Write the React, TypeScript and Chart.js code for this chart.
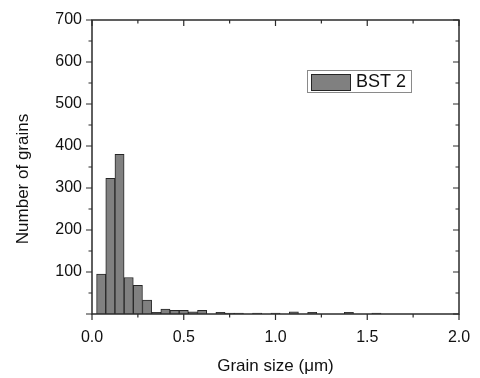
import React, { useEffect, useRef } from "react";
import { Chart, registerables } from "chart.js";

Chart.register(...registerables);

const binCenters = [0.05, 0.1, 0.15, 0.2, 0.25, 0.3, 0.35, 0.4, 0.45, 0.5, 0.55, 0.6, 0.65, 0.7, 0.75, 0.8, 0.85, 0.9, 0.95, 1.0, 1.05, 1.1, 1.15, 1.2, 1.25, 1.3, 1.35, 1.4, 1.45, 1.5, 1.55];
const counts = [95, 323, 380, 87, 68, 33, 4, 12, 9, 9, 5, 9, 0, 4, 2, 2, 0, 2, 0, 2, 0, 5, 0, 4, 0, 0, 0, 4, 0, 0, 2];
const xTickLabels = ["0.0", "0.5", "1.0", "1.5", "2.0"];
const yTickLabels = ["", "100", "200", "300", "400", "500", "600", "700"];
const seriesName = "BST 2";
const xTitle = "Grain size (\u03bcm)";
const yTitle = "Number of grains";

const FONT = "'Liberation Sans', Arial, sans-serif";
const BAR_FILL = "#808080";
const BAR_EDGE = "#262626";
const AXIS = "#2b2b2b";
const TEXT = "#111111";

const decorations = {
  id: "decorations",
  afterDraw(chart: any) {
    const ctx = chart.ctx as CanvasRenderingContext2D;
    const a = chart.chartArea;
    const xs = chart.scales.x;
    const ys = chart.scales.y;
    ctx.save();
    ctx.strokeStyle = AXIS;
    ctx.lineWidth = 1.5;
    ctx.strokeRect(a.left, a.top, a.right - a.left, a.bottom - a.top);
    ctx.lineWidth = 1.2;
    for (let i = 0; i <= 8; i++) {
      const v = i * 0.25;
      const px = xs.getPixelForValue(v);
      const major = i % 2 === 0;
      const len = major ? 6 : 3.5;
      ctx.beginPath();
      ctx.moveTo(px, a.bottom);
      ctx.lineTo(px, a.bottom + len);
      ctx.moveTo(px, a.top);
      ctx.lineTo(px, a.top + len);
      ctx.stroke();
    }
    for (let i = 0; i <= 14; i++) {
      const v = i * 50;
      const py = ys.getPixelForValue(v);
      const major = i % 2 === 0;
      const len = major ? 6 : 3.5;
      ctx.beginPath();
      ctx.moveTo(a.left, py);
      ctx.lineTo(a.left - len, py);
      ctx.moveTo(a.right, py);
      ctx.lineTo(a.right - len, py);
      ctx.stroke();
    }
    ctx.fillStyle = TEXT;
    ctx.font = `17px ${FONT}`;
    ctx.textAlign = "center";
    ctx.textBaseline = "middle";
    ctx.fillText(xTitle, (a.left + a.right) / 2, 366);
    ctx.save();
    ctx.translate(23, 179);
    ctx.rotate(-Math.PI / 2);
    ctx.fillText(yTitle, 0, 0);
    ctx.restore();
    ctx.strokeStyle = "#8a8a8a";
    ctx.lineWidth = 1;
    ctx.strokeRect(307.5, 70.5, 104, 22);
    ctx.fillStyle = BAR_FILL;
    ctx.fillRect(311, 74, 40, 17);
    ctx.strokeStyle = BAR_EDGE;
    ctx.strokeRect(311.5, 74.5, 39, 16);
    ctx.fillStyle = TEXT;
    ctx.font = `18px ${FONT}`;
    ctx.textAlign = "left";
    ctx.textBaseline = "middle";
    ctx.fillText(seriesName, 356, 82.5);
    ctx.restore();
  },
};

export default function App() {
  const ref = useRef<HTMLCanvasElement | null>(null);
  useEffect(() => {
    if (!ref.current) return;
    const chart = new Chart(ref.current, {
      type: "bar",
      data: {
        datasets: [
          {
            label: seriesName,
            data: binCenters.map((x, i) => ({ x, y: counts[i] })),
            backgroundColor: BAR_FILL,
            borderColor: BAR_EDGE,
            borderWidth: 1,
            barPercentage: 1,
            categoryPercentage: 1,
          },
        ],
      },
      options: {
        animation: false,
        responsive: false,
        maintainAspectRatio: false,
        layout: { padding: { left: 0, top: 20, right: 21, bottom: 0 } },
        plugins: { legend: { display: false }, tooltip: { enabled: false } },
        scales: {
          x: {
            type: "linear",
            min: 0,
            max: 2,
            offset: false,
            grid: { display: false, drawTicks: true, tickLength: 10 },
            border: { display: false },
            ticks: {
              stepSize: 0.5,
              padding: 4,
              color: TEXT,
              font: { size: 16, family: FONT },
              maxRotation: 0,
              autoSkip: false,
              callback: (v: any) => xTickLabels[Math.round(Number(v) / 0.5)] ?? "",
            },
            afterFit: (s: any) => {
              s.height = 64;
            },
          },
          y: {
            type: "linear",
            min: 0,
            max: 700,
            grid: { display: false, drawTicks: false },
            border: { display: false },
            ticks: {
              stepSize: 100,
              padding: 10,
              color: TEXT,
              font: { size: 16, family: FONT },
              callback: (v: any) => yTickLabels[Math.round(Number(v) / 100)] ?? "",
            },
            afterFit: (s: any) => {
              s.width = 92;
            },
          },
        },
      },
      plugins: [decorations],
    });
    return () => chart.destroy();
  }, []);
  return (
    <div style={{ position: "fixed", left: 0, top: 0, width: 480, height: 378, background: "#fff" }}>
      <canvas ref={ref} width={480} height={378} style={{ width: 480, height: 378, display: "block" }} />
    </div>
  );
}
